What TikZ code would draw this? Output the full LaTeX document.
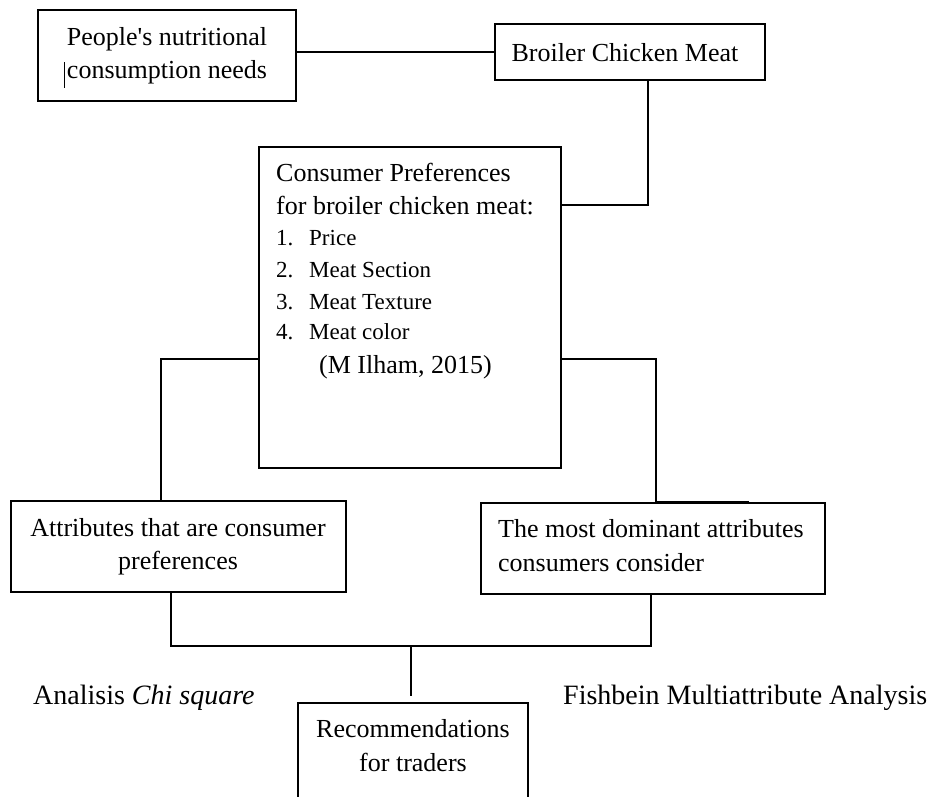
\documentclass[tikz,border=0pt]{standalone}
\usepackage{fontspec}
\setmainfont{Liberation Serif}
\newcommand{\straightapos}{\XeTeXglyph\XeTeXglyphindex "quotesingle"\relax}
\begin{document}
\begin{tikzpicture}[x=1pt,y=-1pt,
  box/.style={draw, line width=1.3pt, rectangle, inner sep=0pt},
  ln/.style={line width=1.3pt},
  txt/.style={anchor=base, inner sep=0pt, font=\fontsize{26}{30}\selectfont},
  txtl/.style={anchor=base west, inner sep=0pt, font=\fontsize{26}{30}\selectfont},
  item/.style={anchor=base west, inner sep=0pt, font=\fontsize{23}{27}\selectfont},
  lab/.style={anchor=base west, inner sep=0pt, font=\fontsize{28}{32}\selectfont}]
\useasboundingbox (0,0) rectangle (935,796);
\clip (0,0) rectangle (935,796);
% boxes
\node[box, minimum width=258pt, minimum height=91pt] (needs) at (167,55.5) {};
\node[box, minimum width=270pt, minimum height=56pt] (broiler) at (630,52) {};
\node[box, minimum width=302pt, minimum height=321pt] (pref) at (410,307.5) {};
\node[box, minimum width=335pt, minimum height=91pt] (attr) at (178.5,546.5) {};
\node[box, minimum width=344pt, minimum height=91pt] (dom) at (653,548.5) {};
\node[box, minimum width=230pt, minimum height=127pt] (rec) at (413,766.5) {};
% texts
\node[txt] (t1a) at (167,45) {People\straightapos s nutritional};
\node[txt] (t1b) at (167,78) {consumption needs};
\node[txt] (t2) at (625,61) {Broiler Chicken Meat};
\node[txtl] (t3a) at (276,181) {Consumer Preferences};
\node[txtl] (t3b) at (276,214) {for broiler chicken meat:};
\node[item] (n1) at (276,245.5) {1.};
\node[item] (i1) at (309,245.5) {Price};
\node[item] (n2) at (276,277.5) {2.};
\node[item] (i2) at (309,277.5) {Meat Section};
\node[item] (n3) at (276,309.5) {3.};
\node[item] (i3) at (309,309.5) {Meat Texture};
\node[item] (n4) at (276,339.5) {4.};
\node[item] (i4) at (309,339.5) {Meat color};
\node[txtl] (cite) at (319,373.5) {(M Ilham, 2015)};
\node[txt] (t4a) at (178,536) {Attributes that are consumer};
\node[txt] (t4b) at (178,569) {preferences};
\node[txtl] (t5a) at (498,537) {The most dominant attributes};
\node[txtl] (t5b) at (498,571) {consumers consider};
\node[txt] (t6a) at (413,737) {Recommendations};
\node[txt] (t6b) at (413,771) {for traders};
\node[lab] (chi) at (33,704) {Analisis \textit{Chi square}};
\node[lab] (fish) at (563,704) {Fishbein Multiattribute Analysis};
% cursor mark
\draw[line width=1pt] (64,62) -- (64,88);
% connectors
\draw[ln] (broiler.west -| needs.east) -- (broiler.west);
\coordinate (c1) at (648,205);
\draw[ln] (broiler.south -| c1) -- (c1) -- (c1 -| pref.east);
\coordinate (cl) at (161,359);
\draw[ln] (cl -| pref.west) -- (cl) -- (cl |- attr.north);
\coordinate (cr) at (656,359);
\draw[ln] (cr -| pref.east) -- (cr) -- (cr |- dom.north);
\draw[line width=2.4pt] (cr |- dom.north) -- ++(93,0);
\coordinate (bl) at (171,646);
\coordinate (br) at (651,646);
\coordinate (bm) at (411,646);
\draw[ln] (bl |- attr.south) -- (bl) -- (br) -- (br |- dom.south);
\draw[ln] (bm) -- ([yshift=6pt]rec.north -| bm);
\end{tikzpicture}
\end{document}
